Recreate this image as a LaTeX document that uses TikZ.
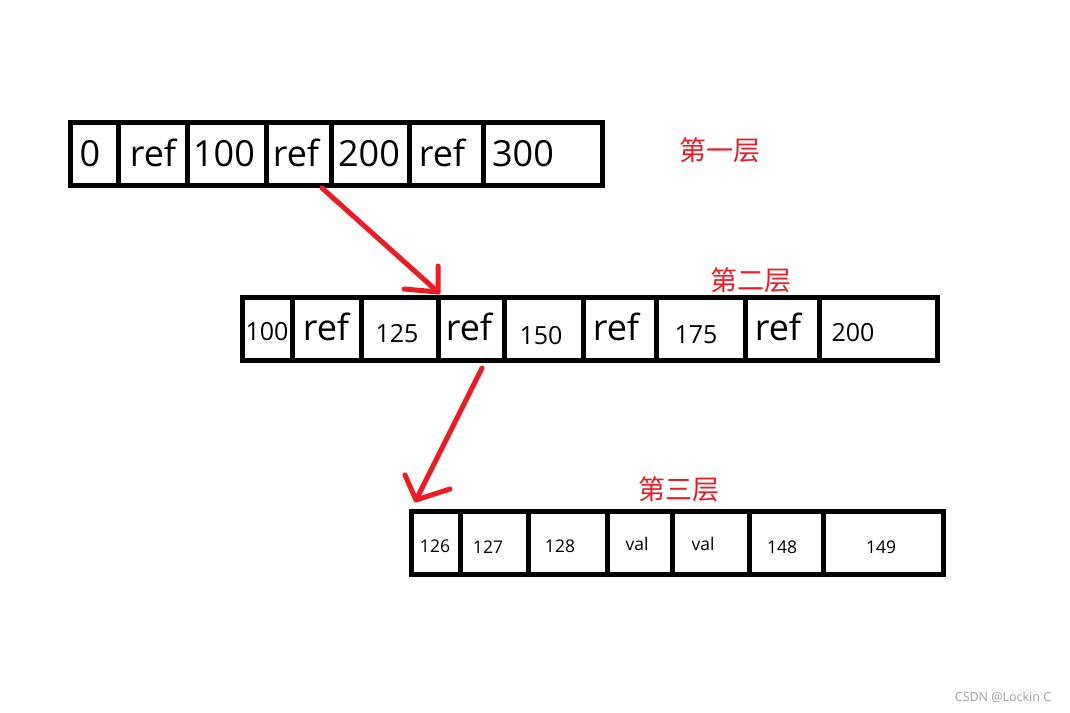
\documentclass[tikz,border=0pt]{standalone}
\usepackage{fontspec}
\setmainfont{Open Sans}
\newfontfamily\cjk{Noto Sans CJK SC}
\definecolor{pred}{RGB}{237,28,36}
\definecolor{wmgray}{RGB}{160,160,160}
\tikzset{
  cellbox/.style={draw=black, line width=5pt, inner sep=0pt, outer sep=0pt},
  big/.style={inner sep=0pt, anchor=base, font=\fontsize{36}{40}\selectfont},
  mid/.style={inner sep=0pt, anchor=base, font=\fontsize{25}{30}\selectfont},
  small/.style={inner sep=0pt, anchor=base, font=\fontsize{17.5}{22}\selectfont},
  layer/.style={inner sep=0pt, text=pred, font=\cjk\fontsize{27}{30}\selectfont},
  redline/.style={draw=pred, line width=5pt, line cap=round, line join=round}
}
\begin{document}
\begin{tikzpicture}[x=1pt,y=-1pt]
\useasboundingbox (0,0) rectangle (1070,712);
\fill[white] (0,0) rectangle (1070,712);
% row 1
\foreach \n/\xa/\xb in {1/70/118,2/118/187,3/187/266,4/266/331,5/331/409,6/409/483,7/483/602}{
  \node[cellbox, minimum width={(\xb-\xa)*1pt}, minimum height=63pt] (ra\n) at ({(\xa+\xb)/2},153.5) {};
}
% row 2
\foreach \n/\xa/\xb in {1/242.5/292,2/292/361,3/361/438,4/438/504,5/504/583,6/583/656,7/656/745,8/745/819,9/819/937}{
  \node[cellbox, minimum width={(\xb-\xa)*1pt}, minimum height=62.5pt] (rb\n) at ({(\xa+\xb)/2},329) {};
}
% row 3
\foreach \n/\xa/\xb in {1/411/460,2/460/528,3/528/607,4/607/672,5/672/749,6/749/823,7/823/943}{
  \node[cellbox, minimum width={(\xb-\xa)*1pt}, minimum height=63pt] (rc\n) at ({(\xa+\xb)/2},542.5) {};
}
% row 1 texts
\node[big] (ta1) at (90,166) {0};
\node[big] (ta2) at (153,166) {ref};
\node[big] (ta3) at (224,166) {100};
\node[big] (ta4) at (296,166) {ref};
\node[big] (ta5) at (369,166) {200};
\node[big] (ta6) at (442,166) {ref};
\node[big] (ta7) at (523,166) {300};
% row 2 texts
\node[mid] (tb1) at (267,340) {100};
\node[big] (tb2) at (326,340) {ref};
\node[mid] (tb3) at (397,342) {125};
\node[big] (tb4) at (469,340) {ref};
\node[mid] (tb5) at (541,344) {150};
\node[big] (tb6) at (616,340) {ref};
\node[mid] (tb7) at (696,343) {175};
\node[big] (tb8) at (778,340) {ref};
\node[mid] (tb9) at (853,341) {200};
% row 3 texts
\node[small] (tc1) at (435,552) {126};
\node[small] (tc2) at (488,553) {127};
\node[small] (tc3) at (560,552) {128};
\node[small] (tc4) at (637,550) {val};
\node[small] (tc5) at (703,550) {val};
\node[small] (tc6) at (782,553) {148};
\node[small] (tc7) at (881,553) {149};
% layer labels
\node[layer] (l1) at (720,150) {第一层};
\node[layer] (l2) at (751,280) {第二层};
\node[layer] (l3) at (679,489) {第三层};
% arrows
\coordinate (a1s) at (322,188);
\coordinate (a1e) at (438,292);
\coordinate (a1b) at (438,266);
\coordinate (a1c) at (404,289);
\draw[redline] (a1s) -- (a1e);
\draw[redline] (a1b) -- (a1e) -- (a1c);
\coordinate (a2s) at (482,368);
\coordinate (a2e) at (416,500);
\coordinate (a2b) at (405,475);
\coordinate (a2c) at (450,489);
\draw[redline] (a2s) -- (a2e);
\draw[redline] (a2b) -- (a2e) -- (a2c);
% watermark
\node[inner sep=0pt, text=wmgray, font=\fontsize{12.5}{14}\selectfont] (wm) at (1003,697) {CSDN @Lockin C};
\end{tikzpicture}
\end{document}
